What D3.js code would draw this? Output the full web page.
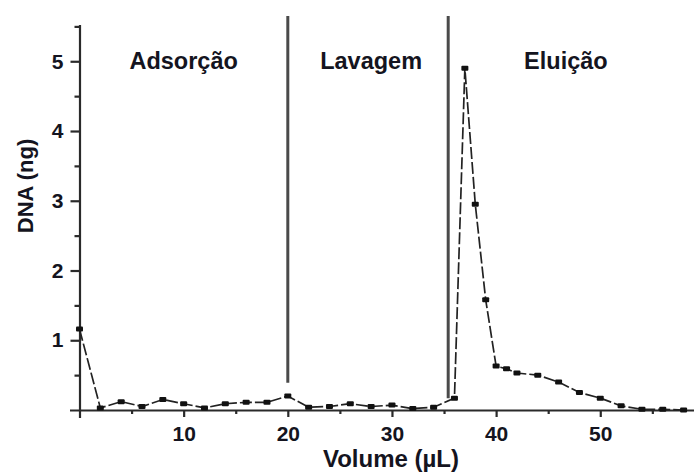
<!DOCTYPE html>
<html>
<head>
<meta charset="utf-8">
<script src="https://cdn.jsdelivr.net/npm/d3@7"></script>
<style>
  body { margin: 0; background: #fff; }
  text { font-family: "Liberation Sans", Arial, sans-serif; font-weight: bold; fill: #141420; }
</style>
</head>
<body>
<svg width="694" height="474"></svg>
<script>
// data
const volume = [0, 2, 4, 6, 8, 10, 12, 14, 16, 18, 20, 22, 24, 26, 28, 30, 32, 34, 36,
                37, 38, 39, 40, 41, 42, 44, 46, 48, 50, 52, 54, 56, 58];
const dna = [1.16, 0.03, 0.12, 0.05, 0.15, 0.09, 0.03, 0.09, 0.11, 0.11, 0.2, 0.04, 0.05, 0.09, 0.05, 0.07, 0.02, 0.04, 0.17,
             4.9, 2.95, 1.58, 0.63, 0.59, 0.53, 0.5, 0.4, 0.25, 0.17, 0.06, 0.01, 0.01, 0];
const xTicks = [10, 20, 30, 40, 50];
const yTicks = [1, 2, 3, 4, 5];
const phases = ['Adsorção', 'Lavagem', 'Eluição'];
const phaseX = [10, 28, 46.7];
const dividerX = [20, 35.4];
const dividerBottom = [0.39, 0.17];
const dividerTop = 5.65;

const svg = d3.select('svg');

const x = d3.scaleLinear().domain([0, 59]).range([79.5, 694]);
const y = d3.scaleLinear().domain([0, 5.52]).range([410, 25]);

// x axis
const xAxis = svg.append('g')
  .attr('transform', `translate(0, ${y(0)})`)
  .call(d3.axisBottom(x).tickValues(d3.range(5, 59, 5)).tickSize(6).tickSizeOuter(0)
    .tickFormat(d => xTicks.includes(d) ? d : ''));
xAxis.select('.domain').attr('d', `M70,0.5H694`);
xAxis.selectAll('.tick line').attr('y2', d => xTicks.includes(d) ? 7 : 4);
xAxis.selectAll('.tick text').attr('y', 16).style('font-size', '21px');

// y axis
const yAxis = svg.append('g')
  .attr('transform', `translate(${x(0)}, 0)`)
  .call(d3.axisLeft(y).tickValues(d3.range(0.5, 5.6, 0.5)).tickSize(8).tickSizeOuter(0)
    .tickFormat(d => yTicks.includes(d) ? d : ''));
yAxis.select('.domain').attr('d', `M0.5,${y(5.52)}V418`);
yAxis.selectAll('.tick line').attr('x2', d => yTicks.includes(d) ? -9 : -5);
yAxis.selectAll('.tick text').attr('x', -16).style('font-size', '21px');

svg.selectAll('.domain, .tick line').attr('stroke', '#2a2a2a').attr('stroke-width', 2.2);

// phase dividers
svg.selectAll('.divider')
  .data(dividerX)
  .enter()
  .append('line')
  .attr('class', 'divider')
  .attr('x1', d => x(d)).attr('x2', d => x(d))
  .attr('y1', y(dividerTop))
  .attr('y2', (d, i) => y(dividerBottom[i]))
  .attr('stroke', '#4a4a4a')
  .attr('stroke-width', 3);

// phase labels
svg.selectAll('.phase')
  .data(phases)
  .enter()
  .append('text')
  .attr('class', 'phase')
  .attr('x', (d, i) => x(phaseX[i]))
  .attr('y', 69)
  .attr('text-anchor', 'middle')
  .style('font-size', '23.5px')
  .text(d => d);

// data line
const pts = volume.map((v, i) => [v, dna[i]]);
svg.append('path')
  .datum(pts)
  .attr('fill', 'none')
  .attr('stroke', '#222')
  .attr('stroke-width', 1.7)
  .attr('stroke-dasharray', '12,3')
  .attr('d', d3.line().x(d => x(d[0])).y(d => y(d[1])));

svg.selectAll('.pt')
  .data(pts)
  .enter()
  .append('rect')
  .attr('class', 'pt')
  .attr('x', d => x(d[0]) - 3.5)
  .attr('y', d => y(d[1]) - 2.5)
  .attr('width', 7)
  .attr('height', 5)
  .attr('rx', 1)
  .attr('fill', '#111');

// axis titles
svg.append('text')
  .attr('x', 391)
  .attr('y', 467)
  .attr('text-anchor', 'middle')
  .style('font-size', '24px')
  .text('Volume (µL)');

svg.append('text')
  .attr('transform', 'translate(33, 186) rotate(-90)')
  .attr('text-anchor', 'middle')
  .style('font-size', '22px')
  .text('DNA (ng)');
</script>
</body>
</html>
